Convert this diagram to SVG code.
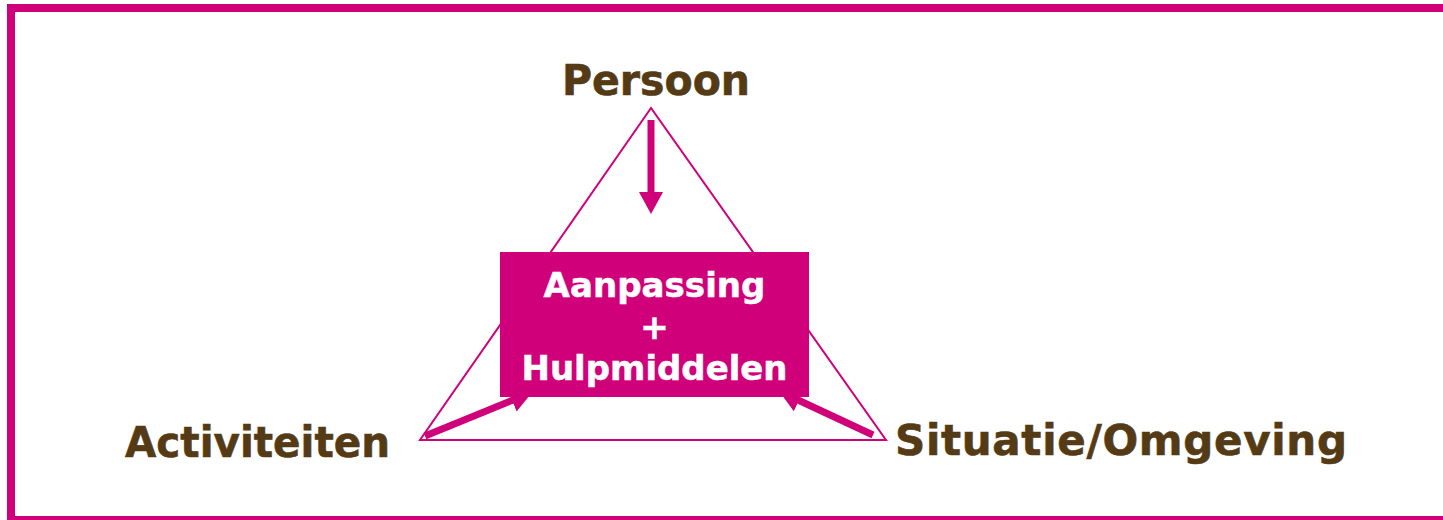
<svg xmlns="http://www.w3.org/2000/svg" width="1443" height="520" viewBox="0 0 1443 520">
  <style>
    .lbl { font-family: "DejaVu Sans", Verdana, sans-serif; font-weight: bold; font-size: 42px; fill: #553A16; stroke: #553A16; stroke-width: 0.6; text-anchor: middle; }
    .box-txt { font-family: "DejaVu Sans", Verdana, sans-serif; font-weight: bold; font-size: 34.5px; fill: #FFFFFF; stroke: #FFFFFF; stroke-width: 0.5; text-anchor: middle; }
    .tri { fill: none; stroke: #D0007A; stroke-width: 2; }
    .arr { stroke: #D0007A; stroke-width: 7; fill: none; marker-end: url(#head); }
  </style>
  <defs>
    <marker id="head" markerUnits="userSpaceOnUse" viewBox="0 0 22 24" markerWidth="22" markerHeight="24" refX="1" refY="12" orient="auto">
      <path d="M0,0 L22,12 L0,24 z" fill="#D0007A"/>
    </marker>
  </defs>
  <rect x="0" y="0" width="1443" height="520" fill="#FFFFFF"/>
  <rect id="frame" x="11" y="8" width="1450" height="512" fill="none" stroke="#D0007A" stroke-width="8"/>

  <g id="triangle">
    <polygon class="tri" points="651,108 420,440 886,440"/>
  </g>

  <g id="connectors">
    <line class="arr" x1="651" y1="120" x2="651" y2="193" stroke-width="8"/>
    <line class="arr" x1="425" y1="436" x2="513" y2="400"/>
    <line class="arr" x1="873" y1="435" x2="798" y2="400"/>
  </g>

  <g id="node-center">
    <rect x="500" y="252" width="309" height="145" fill="#D0007A"/>
    <text class="box-txt" x="654.5" y="297" textLength="222" lengthAdjust="spacingAndGlyphs">Aanpassing</text>
    <text class="box-txt" x="654.5" y="339">+</text>
    <text class="box-txt" x="654.5" y="380" textLength="266" lengthAdjust="spacingAndGlyphs">Hulpmiddelen</text>
  </g>

  <g id="node-persoon">
    <text class="lbl" x="656" y="95" textLength="188" lengthAdjust="spacingAndGlyphs">Persoon</text>
  </g>
  <g id="node-activiteiten">
    <text class="lbl" x="257.5" y="457" textLength="265" lengthAdjust="spacingAndGlyphs">Activiteiten</text>
  </g>
  <g id="node-situatie">
    <text class="lbl" x="1121" y="455" textLength="452" lengthAdjust="spacing">Situatie/Omgeving</text>
  </g>
</svg>
